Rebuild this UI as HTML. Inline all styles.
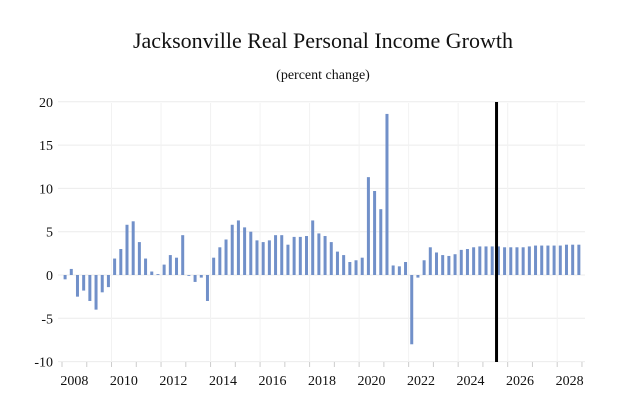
<!DOCTYPE html>
<html><head><meta charset="utf-8"><style>
body{margin:0;background:#fff;}
svg{display:block;font-family:"Liberation Serif",serif;}
</style></head><body>
<svg id="chart" width="627" height="414">
<text x="323" y="48" text-anchor="middle" font-size="22" fill="#111">Jacksonville Real Personal Income Growth</text>
<text x="323" y="79" text-anchor="middle" font-size="14" fill="#111">(percent change)</text>
<g id="grid"></g><g id="bars"></g><g id="axes"></g>
</svg>
<script>
const years=[2008,2010,2012,2014,2016,2018,2020,2022,2024,2026,2028];
const yTicks=[20,15,10,5,0,-5,-10];
const values=[-0.5,0.7,-2.5,-1.8, -3.0,-4.0,-2.0,-1.4, 1.9,3.0,5.8,6.2, 3.8,1.9,0.4,0.1,
1.2,2.3,2.0,4.6, -0.1,-0.8,-0.3,-3.0, 2.0,3.2,4.1,5.8, 6.3,5.5,5.0,4.0,
3.8,4.0,4.6,4.6, 3.5,4.4,4.4,4.5, 6.3,4.8,4.5,3.8, 2.7,2.3,1.5,1.7,
2.0,11.3,9.7,7.6, 18.6,1.1,1.0,1.5, -8.0,-0.3,1.7,3.2, 2.6,2.3,2.2,2.4,
2.9,3.0,3.2,3.3, 3.3,3.3,3.3,3.2, 3.2,3.2,3.2,3.3, 3.4,3.4,3.4,3.4, 3.4,3.5,3.5,3.5];
const startYear=2008, forecastLine=2025.55;
const NS="http://www.w3.org/2000/svg";
const x0=62, pxYear=24.76, y0=275, pxUnit=8.66;
const X=t=>x0+(t-startYear)*pxYear;
const Y=v=>y0-v*pxUnit;
function mk(tag,attrs,parent){const e=document.createElementNS(NS,tag);for(const k in attrs)e.setAttribute(k,attrs[k]);parent.appendChild(e);return e;}
const grid=document.getElementById('grid'),bars=document.getElementById('bars'),axes=document.getElementById('axes');
yTicks.forEach(v=>{
  const l=mk('line',{x1:58,x2:585,y1:Y(v),y2:Y(v),stroke:'#ececec','stroke-width':1},grid);
  
  
  const t=mk('text',{x:53,y:Y(v)+5,'text-anchor':'end','font-size':14,fill:'#111'},axes);
  t.textContent=v;
  
  
});
for(let yr=startYear;yr<=2029;yr++){
  const tk=mk('line',{x1:X(yr),x2:X(yr),y1:362,y2:367,stroke:'#ccc','stroke-width':1},axes);
  
  
  if((yr-startYear)%2===0 && yr>startYear){
    const g=mk('line',{x1:X(yr),x2:X(yr),y1:103,y2:362,stroke:'#f2f2f2','stroke-width':1},grid);
    
    
  }
}
years.forEach(yr=>{
  const t=mk('text',{x:X(yr+0.5),y:385,'text-anchor':'middle','font-size':14,fill:'#111'},axes);
  t.textContent=yr;
  
  
});
values.forEach((v,i)=>{
  const cx=X(startYear+(i+0.5)/4);
  const b=mk('rect',{x:cx-1.5,width:3,y:Math.min(Y(v),Y(0)),height:Math.max(Math.abs(Y(v)-Y(0)),0.6),fill:'#7190c9'},bars);
  
  
});
const fl=mk('line',{x1:X(forecastLine),x2:X(forecastLine),y1:102,y2:362,stroke:'#000','stroke-width':3},axes);


</script>
</body></html>
